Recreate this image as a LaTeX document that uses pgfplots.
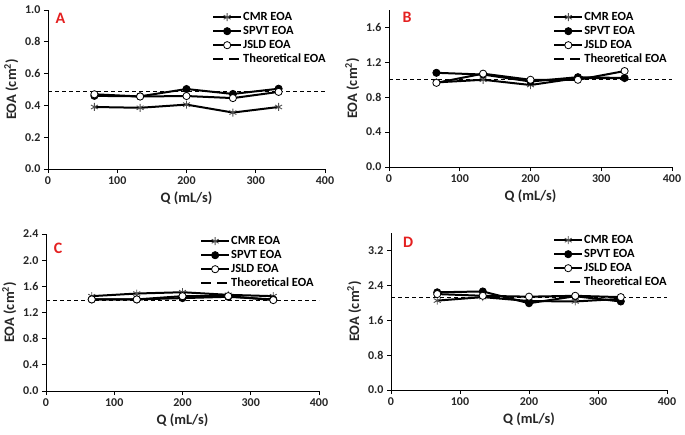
\documentclass[border=0pt]{standalone}
\usepackage{fontspec}
\setmainfont{Carlito}
\usepackage{pgfplots}
\pgfplotsset{compat=1.18}
\definecolor{letterred}{RGB}{228,32,32}
\definecolor{cmrgray}{RGB}{80,80,80}
\tikzset{letter/.style={text=letterred, font=\fontsize{16}{16}\selectfont\bfseries, anchor=center}}
\pgfplotsset{
  eoa/.style={
    scale only axis,
    axis x line*=bottom, axis y line*=left,
    xmin=0, xmax=400, ymin=0,
    xtick={0,100,200,300,400},
    tick align=outside,
    major tick length=4bp,
    axis line style={black, line width=0.8bp},
    tick style={black, line width=0.8bp},
    /pgf/number format/assume math mode=true,
    ticklabel style={font=\fontsize{12}{12}\selectfont\bfseries, text=black!85},
    yticklabel style={/pgf/number format/.cd, fixed, fixed zerofill, precision=1},
    xticklabel style={/pgf/number format/.cd, fixed, precision=0},
    label style={font=\fontsize{14.5}{14.5}\selectfont\bfseries, text=black!85},
    xlabel={Q (mL/s)},
    ylabel={EOA (cm\textsuperscript{2})},
    legend cell align=left,
    legend style={draw=none, fill=none, anchor=north west, inner sep=0pt,
      font=\fontsize{12.5}{12.5}\selectfont\bfseries, row sep=0pt,
      nodes={inner sep=1bp, text height=9bp, text depth=3bp}},
    legend image code/.code={\draw[mark repeat=2,mark phase=2,#1] plot coordinates {(0bp,0bp)(14bp,0bp)(28bp,0bp)};},
  },
  cmr/.style={black, line width=2bp, mark=asterisk, mark size=4bp, mark options={solid, draw=cmrgray, line width=0.9bp}},
  spvt/.style={black, line width=2bp, mark=*, mark size=3.6bp, mark options={solid, fill=black, draw=black, line width=0.8bp}},
  jsld/.style={black, line width=2bp, mark=*, mark size=3.6bp, mark options={solid, fill=white, draw=black, line width=0.8bp}},
  theo/.style={black, line width=1.1bp, dash pattern=on 4bp off 3bp, forget plot},
  theoleg/.style={black, line width=1.8bp, dash pattern=on 10bp off 6bp},
}
\begin{document}
\begin{tikzpicture}
\path[use as bounding box] (0,0) rectangle (685bp,-435bp);

% Panel A
\begin{axis}[eoa, at={(48bp,-169bp)}, anchor=south west, width=277bp, height=159bp,
  ymax=1.0, ytick={0,0.2,0.4,0.6,0.8,1.0},
  legend style={at={(0.592,1.0)}}]
\addplot[cmr] coordinates {(67,0.39)(133,0.385)(200,0.405)(267,0.355)(333,0.39)};
\addlegendentry{CMR EOA}
\addplot[spvt] coordinates {(67,0.46)(133,0.457)(200,0.503)(267,0.472)(333,0.505)};
\addlegendentry{SPVT EOA}
\addplot[jsld] coordinates {(67,0.47)(133,0.456)(200,0.459)(267,0.446)(333,0.485)};
\addlegendentry{JSLD EOA}
\addplot[theo] coordinates {(0,0.49)(400,0.49)};
\addlegendimage{theoleg}
\addlegendentry{Theoretical EOA}
\node[letter] at (rel axis cs:0.045,0.95) {A};
\end{axis}

% Panel B
\begin{axis}[eoa, at={(389bp,-167bp)}, anchor=south west, width=283bp, height=157bp,
  ymax=1.8, ytick={0,0.4,0.8,1.2,1.6},
  legend style={at={(0.58,1.0)}}]
\addplot[cmr] coordinates {(67,0.97)(133,1.00)(200,0.94)(267,1.02)(333,1.02)};
\addlegendentry{CMR EOA}
\addplot[spvt] coordinates {(67,1.08)(133,1.06)(200,0.98)(267,1.03)(333,1.02)};
\addlegendentry{SPVT EOA}
\addplot[jsld] coordinates {(67,0.965)(133,1.07)(200,1.00)(267,1.00)(333,1.10)};
\addlegendentry{JSLD EOA}
\addplot[theo] coordinates {(0,1.0)(400,1.0)};
\addlegendimage{theoleg}
\addlegendentry{Theoretical EOA}
\node[letter] at (rel axis cs:0.064,0.955) {B};
\end{axis}

% Panel C
\begin{axis}[eoa, at={(46bp,-391bp)}, anchor=south west, width=273bp, height=157bp,
  ymax=2.4, ytick={0,0.4,0.8,1.2,1.6,2.0,2.4},
  legend style={at={(0.564,1.0)}}]
\addplot[cmr] coordinates {(67,1.45)(133,1.49)(200,1.51)(267,1.47)(333,1.45)};
\addlegendentry{CMR EOA}
\addplot[spvt] coordinates {(67,1.40)(133,1.40)(200,1.42)(267,1.44)(333,1.40)};
\addlegendentry{SPVT EOA}
\addplot[jsld] coordinates {(67,1.40)(133,1.40)(200,1.45)(267,1.45)(333,1.39)};
\addlegendentry{JSLD EOA}
\addplot[theo] coordinates {(0,1.39)(400,1.39)};
\addlegendimage{theoleg}
\addlegendentry{Theoretical EOA}
\node[letter] at (rel axis cs:0.044,0.91) {C};
\end{axis}

% Panel D
\begin{axis}[eoa, at={(391bp,-390bp)}, anchor=south west, width=276bp, height=157bp,
  ymax=3.6, ytick={0,0.8,1.6,2.4,3.2},
  legend style={at={(0.587,1.0)}}]
\addplot[cmr] coordinates {(67,2.05)(133,2.13)(200,2.04)(267,2.03)(333,2.09)};
\addlegendentry{CMR EOA}
\addplot[spvt] coordinates {(67,2.24)(133,2.26)(200,1.99)(267,2.15)(333,2.03)};
\addlegendentry{SPVT EOA}
\addplot[jsld] coordinates {(67,2.20)(133,2.16)(200,2.14)(267,2.16)(333,2.13)};
\addlegendentry{JSLD EOA}
\addplot[theo] coordinates {(0,2.13)(400,2.13)};
\addlegendimage{theoleg}
\addlegendentry{Theoretical EOA}
\node[letter] at (rel axis cs:0.062,0.94) {D};
\end{axis}
\end{tikzpicture}
\end{document}
